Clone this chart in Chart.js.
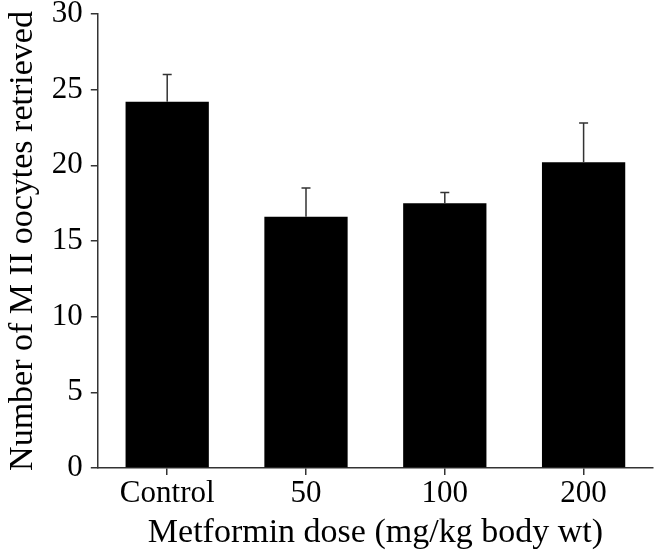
<!DOCTYPE html>
<html lang="en">
<head>
  <meta charset="UTF-8" />
  <title>MII oocytes retrieved</title>
  <script src="https://cdn.jsdelivr.net/npm/chart.js"></script>
  <style>
    * { margin: 0; padding: 0; box-sizing: border-box; }
    body { background: #fff; }
    .wrap { width: 657px; height: 553px; }
  </style>
</head>
<body>
  <div class="wrap"><canvas id="chart"></canvas></div>
  <script>
    const doses = ["Control", "50", "100", "200"];
    const meanOocytes = [24.2, 16.6, 17.5, 20.2];
    const upperError = [26.0, 18.5, 18.2, 22.8];
    const yTicks = [0, 5, 10, 15, 20, 25, 30];

    const tickFont = { family: "'Liberation Serif', 'Times New Roman', serif", size: 31 };
    const titleFont = { family: "'Liberation Serif', 'Times New Roman', serif", size: 34 };

    // draws the upper error whiskers from the y scale
    const errorBars = {
      id: "errorBars",
      afterDatasetsDraw(chart) {
        const ctx = chart.ctx;
        const y = chart.scales.y;
        const meta = chart.getDatasetMeta(0);
        ctx.save();
        ctx.strokeStyle = "#333";
        ctx.lineWidth = 1.5;
        meta.data.forEach((bar, i) => {
          const top = y.getPixelForValue(upperError[i]);
          ctx.beginPath();
          ctx.moveTo(bar.x, bar.y);
          ctx.lineTo(bar.x, top);
          ctx.moveTo(bar.x - 4.5, top);
          ctx.lineTo(bar.x + 4.5, top);
          ctx.stroke();
        });
        ctx.restore();
      }
    };

    new Chart(document.getElementById("chart"), {
      type: "bar",
      data: {
        labels: doses,
        datasets: [{
          data: meanOocytes,
          backgroundColor: "#000",
          borderWidth: 0,
          barPercentage: 0.6,
          categoryPercentage: 1
        }]
      },
      options: {
        responsive: true,
        maintainAspectRatio: false,
        animation: false,
        layout: { padding: { top: 0, right: 4, left: 3, bottom: 0 } },
        plugins: { legend: { display: false }, tooltip: { enabled: false } },
        scales: {
          x: {
            grid: { offset: false, drawOnChartArea: false, tickLength: 7, color: "#333", lineWidth: 1.5 },
            border: { color: "#333", width: 1.5 },
            ticks: { color: "#000", font: tickFont, padding: 0 },
            title: { display: true, text: "Metformin dose (mg/kg body wt)", color: "#000", font: titleFont, padding: 0 }
          },
          y: {
            min: 0,
            max: 30,
            afterBuildTicks: (axis) => { axis.ticks = yTicks.map(v => ({ value: v })); },
            afterFit: (axis) => { axis.paddingTop = 14; },
            grid: { drawOnChartArea: false, tickLength: 7, color: "#333", lineWidth: 1.5 },
            border: { color: "#333", width: 1.5 },
            ticks: { color: "#000", font: tickFont, padding: 8 },
            title: { display: true, text: "Number of M II oocytes retrieved", color: "#000", font: titleFont, padding: 0 }
          }
        }
      },
      plugins: [errorBars]
    });
  </script>
</body>
</html>
